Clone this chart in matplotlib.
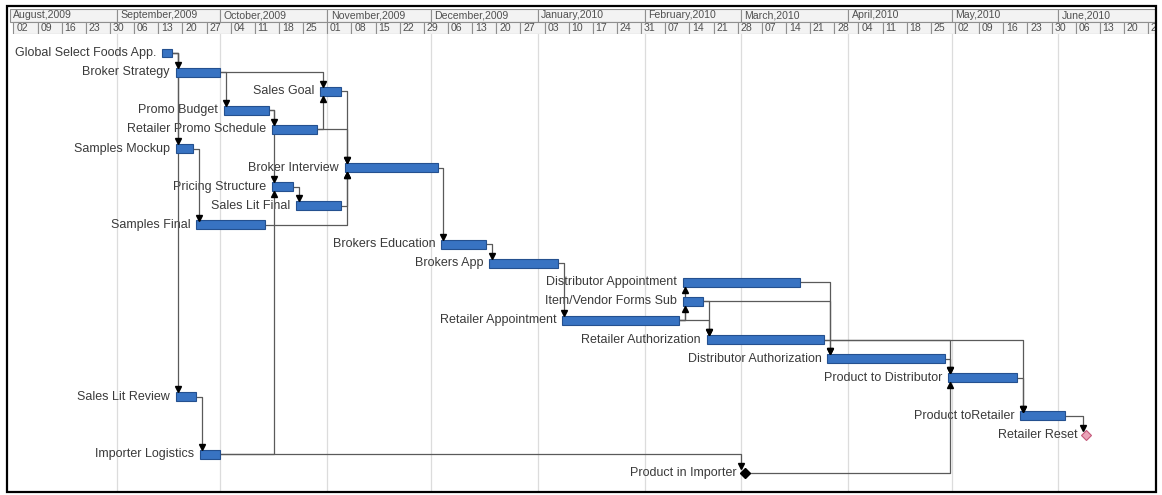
import numpy as np
import matplotlib.pyplot as plt
import matplotlib.dates as mdates
from matplotlib.patches import Rectangle

# tasks, top to bottom
tasks = ['Global Select Foods App.', 'Broker Strategy', 'Sales Goal', 'Promo Budget',
         'Retailer Promo Schedule', 'Samples Mockup', 'Broker Interview', 'Pricing Structure',
         'Sales Lit Final', 'Samples Final', 'Brokers Education', 'Brokers App',
         'Distributor Appointment', 'Item/Vendor Forms Sub', 'Retailer Appointment',
         'Retailer Authorization', 'Distributor Authorization', 'Product to Distributor',
         'Sales Lit Review', 'Product toRetailer', 'Retailer Reset', 'Importer Logistics',
         'Product in Importer']
starts = ['2009-09-14', '2009-09-18', '2009-10-30', '2009-10-02', '2009-10-16', '2009-09-18',
          '2009-11-06', '2009-10-16', '2009-10-23', '2009-09-24', '2009-12-04', '2009-12-18',
          '2010-02-12', '2010-02-12', '2010-01-08', '2010-02-19', '2010-03-26', '2010-04-30',
          '2009-09-18', '2010-05-21', '2010-06-09', '2009-09-25', '2010-03-02']
ends = ['2009-09-17', '2009-10-01', '2009-11-05', '2009-10-15', '2009-10-29', '2009-09-23',
        '2009-12-03', '2009-10-22', '2009-11-05', '2009-10-14', '2009-12-17', '2010-01-07',
        '2010-03-18', '2010-02-18', '2010-02-11', '2010-03-25', '2010-04-29', '2010-05-20',
        '2009-09-24', '2010-06-03', '2010-06-09', '2009-10-01', '2010-03-02']

# links (predecessor -> successor), by task index
preds = [0, 0, 0, 1, 1, 4, 3, 3, 2, 4, 8, 9, 5, 7, 21, 21, 18, 6, 10, 11, 14, 14, 14, 13, 13, 12, 15, 15, 16, 22, 17, 19]
succs = [1, 5, 18, 2, 3, 2, 4, 7, 6, 6, 6, 6, 9, 8, 7, 22, 21, 10, 11, 14, 12, 13, 15, 15, 16, 16, 19, 17, 17, 17, 19, 20]

month_labels = ['August,2009', 'September,2009', 'October,2009', 'November,2009', 'December,2009',
                'January,2010', 'February,2010', 'March,2010', 'April,2010', 'May,2010', 'June,2010']
month_starts = ['2009-08-01', '2009-09-01', '2009-10-01', '2009-11-01', '2009-12-01', '2010-01-01',
                '2010-02-01', '2010-03-01', '2010-04-01', '2010-05-01', '2010-06-01']
week_labels = ['02', '09', '16', '23', '30', '06', '13', '20', '27', '04', '11', '18', '25',
               '01', '08', '15', '22', '29', '06', '13', '20', '27', '03', '10', '17', '24',
               '31', '07', '14', '21', '28', '07', '14', '21', '28', '04', '11', '18', '25',
               '02', '09', '16', '23', '30', '06', '13', '20', '27']
first_week = '2009-08-02'

plt.rcParams['font.family'] = ['Liberation Sans', 'DejaVu Sans']

s = mdates.datestr2num(starts)
e = mdates.datestr2num(ends)
ms = np.isclose(s, e)
n = len(tasks)
w0 = mdates.datestr2num(first_week)
xlim = (w0 - 1.57, w0 + 331.0)

W, H = 1162, 495
fig = plt.figure(figsize=(W / 100, H / 100), dpi=100)
ax = fig.add_axes([8 / W, (H - 491) / H, (1155 - 8) / W, (491 - 34) / H])
axh = fig.add_axes([8 / W, (H - 34) / H, (1155 - 8) / W, 25 / H])

# ---- header ----
axh.set_xlim(xlim)
axh.set_ylim(0, 2)
axh.axis('off')
mnum = list(mdates.datestr2num(month_starts)) + [xlim[1] + 10]
for i, lab in enumerate(month_labels):
    a, b = max(mnum[i], xlim[0]), mnum[i + 1]
    axh.add_patch(Rectangle((a, 1), b - a, 1, fc='#f3f3f3', ec='#8f8f8f', lw=0.8, clip_on=True))
    axh.text(a + 1.0, 1.5, lab, fontsize=7.6, color='#505050', va='center', ha='left', clip_on=True)
for k, lab in enumerate(week_labels):
    a = w0 + 7 * k
    axh.add_patch(Rectangle((max(a, xlim[0]), 0), a + 7 - max(a, xlim[0]), 1,
                            fc='#f3f3f3', ec='#8f8f8f', lw=0.8, clip_on=True))
    axh.text(a + 0.8, 0.5, lab, fontsize=7.6, color='#505050', va='center', ha='left', clip_on=True)

# ---- body ----
ax.set_xlim(xlim)
ax.set_ylim(22.93, -0.995)
ax.axis('off')
for m in mnum[1:-1]:
    ax.axvline(m, color='#dcdcdc', lw=0.9, zorder=0)

bh = 0.47
lc = '#5a5a5a'
for p, q in zip(preds, succs):
    x0 = s[p] + 1.3 if ms[p] else e[p]
    xt = s[q] - 1.0 if ms[q] else s[q] + 0.7
    half = 0.22 if ms[q] else bh / 2
    if q > p:
        ya, mk = q - half - 0.15, 'v'
    else:
        ya, mk = q + half + 0.15, '^'
    ax.plot([x0, xt, xt], [p, p, ya], color=lc, lw=0.9, zorder=2)
    ax.plot(xt, ya, marker=mk, ms=4.5, color='black', zorder=4)

for i in range(n):
    if ms[i]:
        if i == 20:
            ax.plot(s[i], i, marker='D', ms=5.5, mfc='#eaa3b8', mec='#c4587a', mew=0.8, zorder=3)
        else:
            ax.plot(s[i], i, marker='D', ms=5.5, color='black', zorder=3)
        ax.annotate(tasks[i], (s[i], i), xytext=(-6, 0), textcoords='offset points',
                    ha='right', va='center', fontsize=9, color='#3a3a3a', zorder=1)
    else:
        ax.barh(i, e[i] - s[i], left=s[i], height=bh, color='#3873c2', edgecolor='#24508f',
                lw=0.8, zorder=3)
        ax.annotate(tasks[i], (s[i], i), xytext=(-4, 0), textcoords='offset points',
                    ha='right', va='center', fontsize=9, color='#3a3a3a', zorder=1)

# outer frame
fig.patches.append(Rectangle((6.5 / W, 3 / H), 1149 / W, 486 / H, transform=fig.transFigure,
                             fill=False, ec='black', lw=1.6))

plt.savefig('out.png', dpi=100)
